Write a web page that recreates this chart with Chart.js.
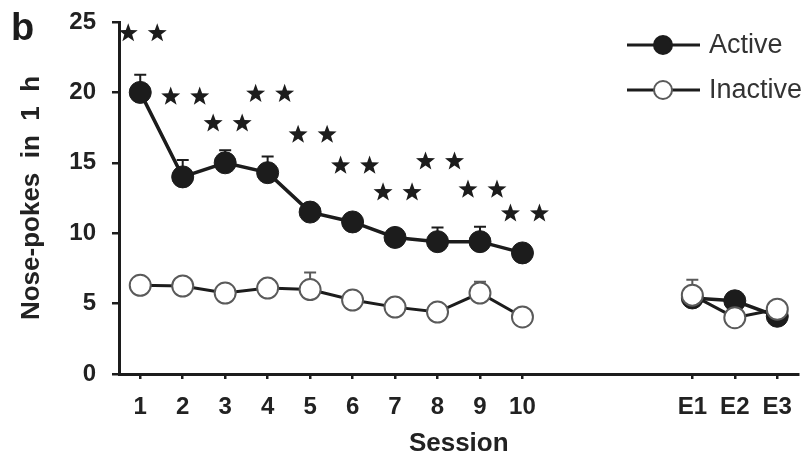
<!DOCTYPE html>
<html>
<head>
<meta charset="utf-8">
<script src="https://cdn.jsdelivr.net/npm/chart.js@4.4.0/dist/chart.umd.min.js"></script>
<style>
  html, body { margin: 0; padding: 0; background: #fff; }
  canvas { display: block; }
</style>
</head>
<body>
<canvas id="chart" width="811" height="462"></canvas>
<script>
// sessions 1-10, then three empty slots before the extinction sessions
const sessions = ['1', '2', '3', '4', '5', '6', '7', '8', '9', '10', '', '', '', 'E1', 'E2', 'E3'];

const activeMean = [20.0, 14.0, 15.0, 14.3, 11.5, 10.8, 9.7, 9.4, 9.4, 8.6, null, null, null, 5.4, 5.2, 4.1];
const activeSem = [1.25, 1.2, 0.9, 1.15, 0.4, 0.4, 0.4, 1.0, 1.05, 0.4, null, null, null, 0.4, 0.3, 0.3];

const inactiveMean = [6.3, 6.25, 5.75, 6.1, 6.0, 5.25, 4.75, 4.4, 5.75, 4.05, null, null, null, 5.6, 4.0, 4.6];
const inactiveSem = [0.4, 0.4, 0.3, 0.4, 1.2, 0.4, 0.3, 0.3, 0.8, 0.3, null, null, null, 1.1, 0.3, 0.3];

// height of the ** marks over sessions 1-10
const starLevels = [24.2, 19.7, 17.8, 19.9, 17.0, 14.8, 12.9, 15.1, 13.1, 11.4];

const yTicks = [0, 5, 10, 15, 20, 25];

const INK = '#1c1c1c';
const FONT = "'Liberation Sans', Arial, Helvetica, sans-serif";

function drawStar(ctx, cx, cy, rOut, rIn) {
    ctx.beginPath();
    for (let k = 0; k < 10; k++) {
        const r = k % 2 === 0 ? rOut : rIn;
        const a = -Math.PI / 2 + k * Math.PI / 5;
        const px = cx + r * Math.cos(a);
        const py = cy + r * Math.sin(a);
        if (k === 0) ctx.moveTo(px, py); else ctx.lineTo(px, py);
    }
    ctx.closePath();
    ctx.fill();
}

// upward SEM bars, drawn under the markers
const errorBars = {
    id: 'errorBars',
    beforeDatasetsDraw(chart) {
        const ctx = chart.ctx;
        const y = chart.scales.y;
        chart.data.datasets.forEach((ds, di) => {
            const meta = chart.getDatasetMeta(di);
            ctx.save();
            ctx.strokeStyle = ds.errorColor;
            ctx.lineWidth = 2;
            ds.data.forEach((v, i) => {
                const e = ds.errors[i];
                if (v == null || e == null) return;
                const px = meta.data[i].x;
                const y0 = y.getPixelForValue(v);
                const y1 = y.getPixelForValue(v + e);
                ctx.beginPath();
                ctx.moveTo(px, y0);
                ctx.lineTo(px, y1);
                ctx.moveTo(px - 6, y1);
                ctx.lineTo(px + 6, y1);
                ctx.stroke();
            });
            ctx.restore();
        });
    }
};

const starMarks = {
    id: 'starMarks',
    afterDatasetsDraw(chart) {
        const ctx = chart.ctx;
        const x = chart.scales.x;
        const y = chart.scales.y;
        ctx.save();
        ctx.fillStyle = INK;
        starLevels.forEach((lvl, i) => {
            const cx = x.getPixelForValue(i);
            const cy = y.getPixelForValue(lvl);
            drawStar(ctx, cx - 12, cy, 10, 4.1);
            drawStar(ctx, cx + 17, cy, 10, 4.1);
        });
        ctx.restore();
    }
};

const decorations = {
    id: 'decorations',
    afterDraw(chart) {
        const ctx = chart.ctx;
        ctx.save();
        // panel letter
        ctx.fillStyle = INK;
        ctx.font = 'bold 38px ' + FONT;
        ctx.textBaseline = 'alphabetic';
        ctx.fillText('b', 11, 40);

        // legend
        const rows = [
            { label: 'Active', y: 45, fill: INK, stroke: INK },
            { label: 'Inactive', y: 90, fill: '#ffffff', stroke: '#5a5a5a' }
        ];
        ctx.font = '27px ' + FONT;
        ctx.textBaseline = 'middle';
        rows.forEach(r => {
            ctx.strokeStyle = INK;
            ctx.lineWidth = 3;
            ctx.beginPath();
            ctx.moveTo(627, r.y);
            ctx.lineTo(700, r.y);
            ctx.stroke();
            ctx.beginPath();
            ctx.arc(663, r.y, 9, 0, Math.PI * 2);
            ctx.fillStyle = r.fill;
            ctx.fill();
            ctx.lineWidth = 2;
            ctx.strokeStyle = r.stroke;
            ctx.stroke();
            ctx.fillStyle = '#333';
            ctx.fillText(r.label, 709, r.y + 1);
        });
        ctx.restore();
    }
};

new Chart(document.getElementById('chart').getContext('2d'), {
    type: 'line',
    data: {
        labels: sessions,
        datasets: [
            {
                label: 'Inactive',
                data: inactiveMean,
                errors: inactiveSem,
                errorColor: '#5a5a5a',
                order: 0,
                borderColor: INK,
                borderWidth: 3,
                pointRadius: 10.5,
                pointBorderWidth: 2,
                pointBackgroundColor: '#ffffff',
                pointBorderColor: '#5a5a5a',
                tension: 0
            },
            {
                label: 'Active',
                data: activeMean,
                errors: activeSem,
                errorColor: INK,
                order: 1,
                borderColor: INK,
                borderWidth: 3.5,
                pointRadius: 11,
                pointBorderWidth: 1,
                pointBackgroundColor: INK,
                pointBorderColor: INK,
                tension: 0
            }
        ]
    },
    options: {
        responsive: false,
        animation: false,
        layout: {
            padding: { left: 0, right: 11, top: 22, bottom: 0 }
        },
        plugins: {
            legend: { display: false },
            tooltip: { enabled: false }
        },
        scales: {
            x: {
                offset: true,
                afterFit(scale) { scale.height = 88; },
                grid: {
                    offset: false,
                    drawOnChartArea: false,
                    tickLength: 5,
                    lineWidth: 2.5,
                    color: c => (c.tick && c.tick.label ? INK : 'rgba(0,0,0,0)')
                },
                border: { display: true, color: INK, width: 3 },
                ticks: {
                    autoSkip: false,
                    maxRotation: 0,
                    padding: 14,
                    color: '#222',
                    font: { family: FONT, size: 24, weight: 'bold' }
                },
                title: {
                    display: true,
                    text: 'Session',
                    color: '#222',
                    padding: { top: 0, bottom: 3 },
                    font: { family: FONT, size: 26, weight: 'bold' }
                }
            },
            y: {
                min: 0,
                max: 25,
                afterFit(scale) {
                    scale.width = 119;
                    scale.paddingTop = 0;
                    scale.paddingBottom = 0;
                },
                afterBuildTicks(scale) { scale.ticks = yTicks.map(v => ({ value: v })); },
                grid: {
                    drawOnChartArea: false,
                    tickLength: 7,
                    lineWidth: 2.5,
                    color: INK
                },
                border: { display: true, color: INK, width: 3 },
                ticks: {
                    padding: 16,
                    color: '#222',
                    font: { family: FONT, size: 24, weight: 'bold' }
                },
                title: {
                    display: true,
                    text: 'Nose-pokes  in  1  h',
                    color: '#222',
                    padding: { top: 16, bottom: 0 },
                    font: { family: FONT, size: 26, weight: 'bold' }
                }
            }
        }
    },
    plugins: [errorBars, starMarks, decorations]
});
</script>
</body>
</html>
